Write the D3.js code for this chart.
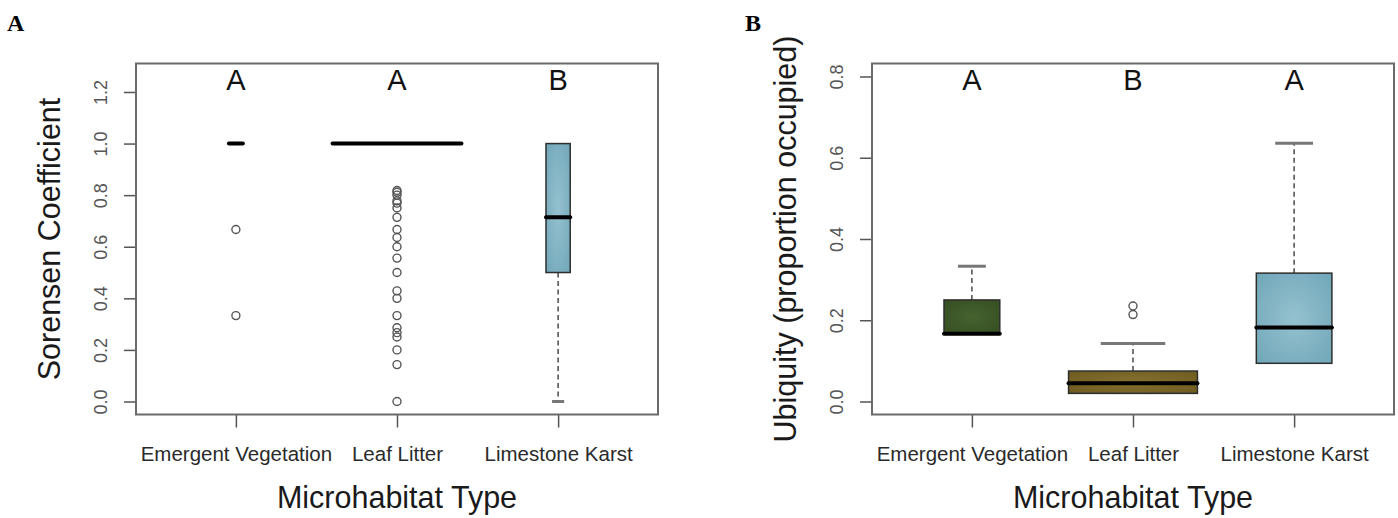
<!DOCTYPE html>
<html>
<head>
<meta charset="utf-8">
<script src="https://cdn.jsdelivr.net/npm/d3@7/dist/d3.min.js"></script>
<style>
  body { margin: 0; background: #fff; }
  svg { display: block; font-family: Arial, "Liberation Sans", Helvetica, sans-serif; }
</style>
</head>
<body>
<svg id="drawing_region"></svg>
<script>
// categories shared by both panels
const categories = ["Emergent Vegetation", "Leaf Litter", "Limestone Karst"];

// panel A: Sorensen coefficient (box stats per category)
const sorLow  = [1.0, 1.0, 0.0];
const sorQ1   = [1.0, 1.0, 0.5];
const sorMed  = [1.0, 1.0, 0.714];
const sorQ3   = [1.0, 1.0, 1.0];
const sorHigh = [1.0, 1.0, 1.0];
const sorN    = [4, 340, 12];
const sorOut  = [
    [0.667, 0.333],
    [0, 0.143, 0.2, 0.25, 0.267, 0.286, 0.333, 0.4, 0.429, 0.5, 0.556, 0.6,
     0.636, 0.667, 0.714, 0.75, 0.769, 0.778, 0.8, 0.811, 0.818],
    []
];
const sorLetters = ["A", "A", "B"];
const sorTicks = [0, 0.2, 0.4, 0.6, 0.8, 1.0, 1.2];
const sorLim = [0, 1.26];

// panel B: ubiquity
const ubiLow  = [0.167, 0.02, 0.094];
const ubiQ1   = [0.167, 0.02, 0.094];
const ubiMed  = [0.167, 0.045, 0.182];
const ubiQ3   = [0.25, 0.075, 0.316];
const ubiHigh = [0.333, 0.143, 0.636];
const ubiN    = [6, 32, 11];
const ubiOut  = [[], [0.214, 0.235], []];
const ubiLetters = ["A", "B", "A"];
const ubiTicks = [0, 0.2, 0.4, 0.6, 0.8];
const ubiLim = [0, 0.8];

const W = 1398, H = 518;
const svg = d3.select('#drawing_region')
    .attr('width', W)
    .attr('height', H);

// box fill gradients
const fills = {
    ev: ['#46632f', '#354d22'],
    ll: ['#86712f', '#6e5b20'],
    lk: ['#95c1cf', '#70a7b8']
};
const defs = svg.append('defs');
Object.keys(fills).forEach(k => {
    const grad = defs.append('radialGradient')
        .attr('id', 'grad_' + k)
        .attr('cx', '50%').attr('cy', '50%').attr('r', '70%');
    grad.append('stop').attr('offset', '0%').attr('stop-color', fills[k][0]);
    grad.append('stop').attr('offset', '100%').attr('stop-color', fills[k][1]);
});
const fillKeys = ['ev', 'll', 'lk'];

function boxPanel(config, stats) {
    const g = svg.append('g');

    const x = d3.scaleLinear()
        .domain([0.5 - 0.12, 3.5 + 0.12])
        .range([config.left, config.right]);

    const ext = (config.ylim[1] - config.ylim[0]) * 0.04;
    const y = d3.scaleLinear()
        .domain([config.ylim[0] - ext, config.ylim[1] + ext])
        .range([config.bottom, config.top]);

    // y axis
    g.append('g')
        .attr('transform', `translate(${config.left},0)`)
        .call(d3.axisLeft(y).tickValues(config.ticks).tickSize(12).tickFormat(d3.format('.1f')))
        .call(a => a.select('.domain').remove())
        .call(a => a.selectAll('.tick line').attr('stroke', '#555').attr('stroke-width', 1.5))
        .call(a => a.selectAll('.tick text')
            .attr('transform', 'rotate(-90)')
            .attr('x', 0).attr('y', -29).attr('dy', 0)
            .attr('text-anchor', 'middle')
            .attr('font-size', 18)
            .attr('font-family', 'Arial, "Liberation Sans", sans-serif')
            .attr('fill', '#555'));

    // x axis
    g.append('g')
        .attr('transform', `translate(0,${config.bottom})`)
        .call(d3.axisBottom(x).tickValues([1, 2, 3]).tickSize(13).tickFormat((d, i) => categories[i]))
        .call(a => a.select('.domain').remove())
        .call(a => a.selectAll('.tick line').attr('stroke', '#555').attr('stroke-width', 1.5))
        .call(a => a.selectAll('.tick text')
            .attr('y', 46).attr('dy', 0)
            .attr('font-size', 20.5)
            .attr('font-family', 'Arial, "Liberation Sans", sans-serif')
            .attr('fill', '#2a2a2a'));

    const nmax = d3.max(stats.n);
    const data = categories.map((c, i) => ({
        pos: i + 1,
        low: stats.low[i], q1: stats.q1[i], med: stats.med[i],
        q3: stats.q3[i], high: stats.high[i],
        hw: 0.4 * Math.sqrt(stats.n[i]) / Math.sqrt(nmax),
        out: stats.out[i],
        key: fillKeys[i]
    }));

    const box = g.selectAll('.box')
        .data(data)
        .join('g')
        .attr('class', 'box');

    // whiskers (dashed)
    box.filter(d => d.high > d.q3).append('line')
        .attr('x1', d => x(d.pos)).attr('x2', d => x(d.pos))
        .attr('y1', d => y(d.q3)).attr('y2', d => y(d.high))
        .attr('stroke', '#555').attr('stroke-width', 1.6).attr('stroke-dasharray', '5,3.5');
    box.filter(d => d.low < d.q1).append('line')
        .attr('x1', d => x(d.pos)).attr('x2', d => x(d.pos))
        .attr('y1', d => y(d.q1)).attr('y2', d => y(d.low))
        .attr('stroke', '#555').attr('stroke-width', 1.6).attr('stroke-dasharray', '5,3.5');

    // staples
    box.filter(d => d.high > d.q3).append('line')
        .attr('x1', d => x(d.pos - d.hw / 2)).attr('x2', d => x(d.pos + d.hw / 2))
        .attr('y1', d => y(d.high)).attr('y2', d => y(d.high))
        .attr('stroke', '#777').attr('stroke-width', 3);
    box.filter(d => d.low < d.q1).append('line')
        .attr('x1', d => x(d.pos - d.hw / 2)).attr('x2', d => x(d.pos + d.hw / 2))
        .attr('y1', d => y(d.low)).attr('y2', d => y(d.low))
        .attr('stroke', '#777').attr('stroke-width', 3);

    // box
    box.append('rect')
        .attr('x', d => x(d.pos - d.hw))
        .attr('width', d => x(d.pos + d.hw) - x(d.pos - d.hw))
        .attr('y', d => y(d.q3))
        .attr('height', d => y(d.q1) - y(d.q3))
        .attr('fill', d => `url(#grad_${d.key})`)
        .attr('stroke', '#2e2e2e').attr('stroke-width', 1.5);

    // median
    box.append('line')
        .attr('x1', d => x(d.pos - d.hw)).attr('x2', d => x(d.pos + d.hw))
        .attr('y1', d => y(d.med)).attr('y2', d => y(d.med))
        .attr('stroke', '#000').attr('stroke-width', 4).attr('stroke-linecap', 'round');

    // outliers
    box.selectAll('circle')
        .data(d => d.out.map(v => ({ pos: d.pos, v: v })))
        .join('circle')
        .attr('cx', d => x(d.pos))
        .attr('cy', d => y(d.v))
        .attr('r', 4)
        .attr('fill', 'none')
        .attr('stroke', '#555').attr('stroke-width', 1.4);

    // group letters
    g.selectAll('.letter')
        .data(stats.letters)
        .join('text')
        .attr('class', 'letter')
        .attr('x', (d, i) => x(i + 1))
        .attr('y', 90)
        .attr('text-anchor', 'middle')
        .attr('font-size', 29)
        .attr('fill', '#111')
        .text(d => d);

    // frame
    g.append('rect')
        .attr('x', config.left).attr('y', config.top)
        .attr('width', config.right - config.left)
        .attr('height', config.bottom - config.top)
        .attr('fill', 'none')
        .attr('stroke', '#6a6a6a').attr('stroke-width', 2);

    // axis titles
    g.append('text')
        .attr('transform', `translate(${config.left - 76},${(config.top + config.bottom) / 2}) rotate(-90)`)
        .attr('text-anchor', 'middle')
        .attr('font-size', 30.5)
        .attr('fill', '#1a1a1a')
        .text(config.ytitle);

    g.append('text')
        .attr('x', x(2)).attr('y', 508)
        .attr('text-anchor', 'middle')
        .attr('font-size', 30.5)
        .attr('fill', '#1a1a1a')
        .text('Microhabitat Type');

    // panel tag
    svg.append('text')
        .attr('x', config.tagX).attr('y', 31)
        .attr('font-family', '"Times New Roman", "Liberation Serif", serif')
        .attr('font-weight', 'bold')
        .attr('font-size', 24)
        .text(config.tag);
}

boxPanel(
    { left: 136, right: 658, top: 63.5, bottom: 414.5, ylim: sorLim, ticks: sorTicks,
      ytitle: 'Sorensen Coefficient', tag: 'A', tagX: 7 },
    { low: sorLow, q1: sorQ1, med: sorMed, q3: sorQ3, high: sorHigh, n: sorN,
      out: sorOut, letters: sorLetters }
);

boxPanel(
    { left: 872, right: 1394, top: 63.5, bottom: 414.5, ylim: ubiLim, ticks: ubiTicks,
      ytitle: 'Ubiquity (proportion occupied)', tag: 'B', tagX: 745 },
    { low: ubiLow, q1: ubiQ1, med: ubiMed, q3: ubiQ3, high: ubiHigh, n: ubiN,
      out: ubiOut, letters: ubiLetters }
);
</script>
</body>
</html>
